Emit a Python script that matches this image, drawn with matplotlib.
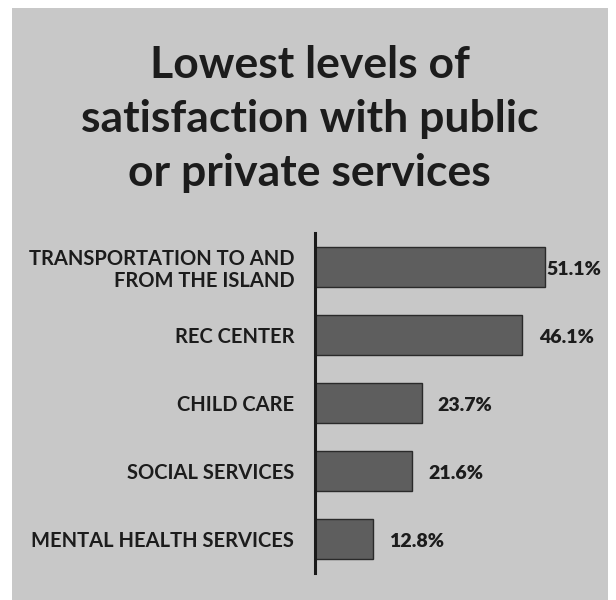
import matplotlib
matplotlib.use("Agg")
import matplotlib.pyplot as plt
from matplotlib.patches import Rectangle

categories = ["TRANSPORTATION TO AND\nFROM THE ISLAND", "REC CENTER", "CHILD CARE",
              "SOCIAL SERVICES", "MENTAL HEALTH SERVICES"]
values = [51.1, 46.1, 23.7, 21.6, 12.8]
value_labels = ["51.1%", "46.1%", "23.7%", "21.6%", "12.8%"]
title = "Lowest levels of\nsatisfaction with public\nor private services"

BG = "#c8c8c8"
BAR = "#5e5e5e"
TXT = "#1c1c1c"

fig = plt.figure(figsize=(6.16, 6.0), dpi=100)
fig.patch.set_facecolor("white")
fig.patches.append(Rectangle((12/616, 0), 596/616, 1 - 8/600, transform=fig.transFigure,
                             facecolor=BG, edgecolor="none", zorder=-10))

fig.text(0.503, 1 - 119/600, title, ha="center", va="center", fontsize=32,
         fontweight="bold", family="Lato", color=TXT, linespacing=1.42)

ax = fig.add_axes([315/616, 1 - 573/600, 270/616, 340/600])
ax.set_zorder(5)
ax.set_facecolor("none")
y = list(range(len(categories)))
ax.barh(y, values, height=0.59, color=BAR, edgecolor="#2a2a2a", linewidth=1.0)
ax.set_xlim(0, 60)
ax.set_ylim(4.5, -0.5)
label_limit = 51.4
for yi, v, lab in zip(y, values, value_labels):
    ax.text(min(v + 3.6, label_limit), yi + 0.04, lab, ha="left", va="center", fontsize=14,
            fontweight="heavy", family="Lato", color=TXT, clip_on=False)
ax.set_yticks(y)
ax.set_yticklabels(categories, fontsize=14.5, fontweight="bold", family="Lato",
                   color=TXT, ha="right", linespacing=1.15)
ax.tick_params(axis="y", length=0, pad=15)
ax.set_xticks([])
for s in ["top", "right", "bottom"]:
    ax.spines[s].set_visible(False)
ax.spines["left"].set_linewidth(2.2)
ax.spines["left"].set_color("#1a1a1a")

fig.savefig("out.png", dpi=100, facecolor=fig.get_facecolor())
